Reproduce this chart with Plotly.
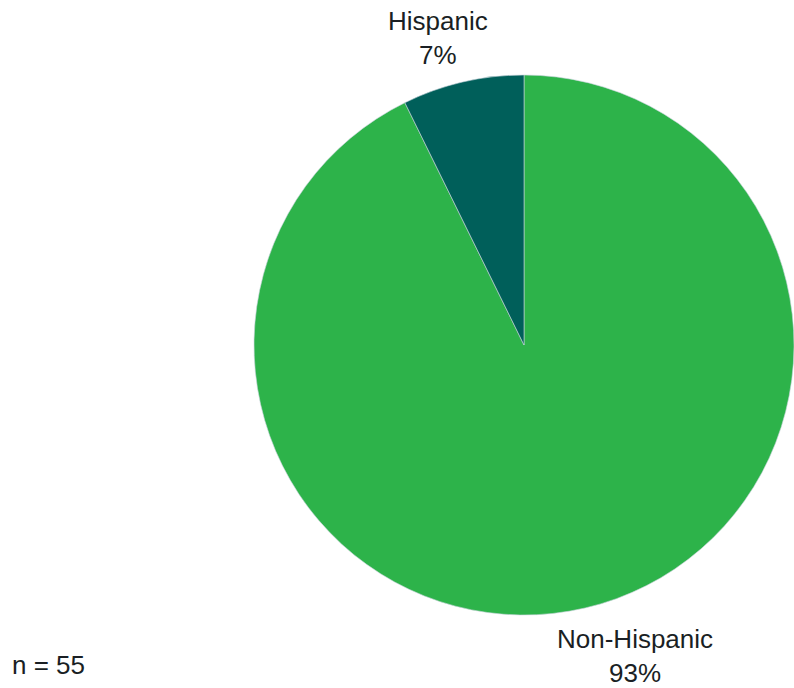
import plotly.graph_objects as go

# Respondent ethnicity breakdown (drawn clockwise from 12 o'clock)
categories = ["Non-Hispanic", "Hispanic"]
counts = [51, 4]
colors = ["#2DB34A", "#005F5A"]

total = sum(counts)
pct = [round(100 * c / total) for c in counts]

W, H = 794, 688
FONT = dict(family="Liberation Sans, Arial, sans-serif", size=26, color="#1A1F24")

fig = go.Figure(
    go.Pie(
        labels=categories,
        values=counts,
        sort=False,
        direction="clockwise",
        rotation=0,
        textinfo="none",
        hoverinfo="label+percent",
        marker=dict(colors=colors, line=dict(color="#C8D3DC", width=0.6)),
        domain=dict(x=[254 / W, 1.0], y=[1 - 617 / H, 1 - 73 / H]),
        showlegend=False,
    )
)

# Slice labels placed outside the pie
label_pos = {
    "Hispanic": (438, 38),
    "Non-Hispanic": (635, 656),
}
annotations = []
for name, p in zip(categories, pct):
    px, py = label_pos[name]
    annotations.append(
        dict(
            text=f"{name}<br>{p}%",
            x=px / W,
            y=1 - py / H,
            xref="paper",
            yref="paper",
            xanchor="center",
            yanchor="middle",
            showarrow=False,
            font=FONT,
            align="center",
        )
    )

annotations.append(
    dict(
        text=f"n = {total}",
        x=10 / W,
        y=1 - 665 / H,
        xref="paper",
        yref="paper",
        xanchor="left",
        yanchor="middle",
        showarrow=False,
        font=FONT,
    )
)

fig.update_layout(
    width=W,
    height=H,
    margin=dict(l=0, r=0, t=0, b=0),
    paper_bgcolor="white",
    plot_bgcolor="white",
    annotations=annotations,
)

fig.write_html("out.html")
